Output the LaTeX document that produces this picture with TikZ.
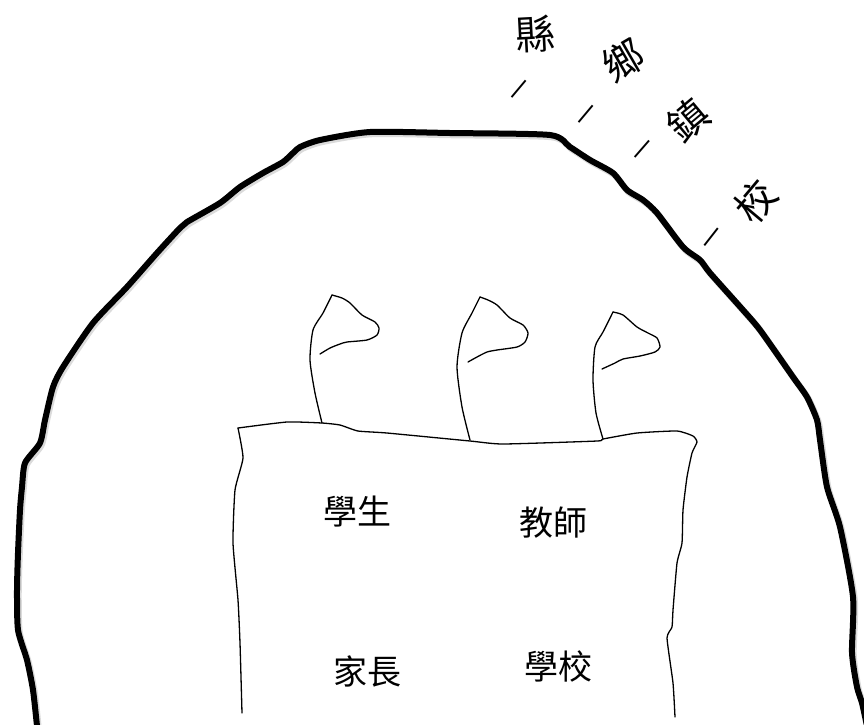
\documentclass[tikz,border=0pt]{standalone}
\usepackage{fontspec}
\newfontfamily\cjk{Noto Sans CJK TC}
\begin{document}
\begin{tikzpicture}[x=1pt,y=-1pt,
  rim/.style={line width=6pt, line cap=round, line join=round},
  rimshade/.style={line width=6.5pt, draw=black!14, line cap=round, line join=round},
  pen/.style={line width=1.3pt, line cap=round, line join=round},
  label/.style={font=\cjk\fontsize{34}{34}\selectfont, inner sep=0pt},
  arcchar/.style={font=\cjk\fontsize{40}{40}\selectfont, inner sep=0pt},
  arcdash/.style={font=\cjk\fontsize{24}{24}\selectfont, inner sep=0pt}]
\useasboundingbox (0,0) rectangle (864,724);

% outer hand-drawn rim
\def\rimpath{(37,726) (33,690) (27,660) (18,630) (17,590) (18,553) (20,510) (22,487)
  (25,463) (40,443) (45,420) (53,387) (63,367) (93,323) (127,287) (157,253)
  (180,228) (187,222) (220,203) (240,187) (263,173) (283,162) (293,153) (300,147)
  (320,140) (370,132) (450,133) (550,135) (570,147) (590,160) (613,173) (627,190)
  (643,200) (657,213) (683,247) (700,260) (710,273) (743,310) (760,330) (793,377)
  (807,397) (817,420) (820,440) (827,487) (840,527) (853,597) (852,653) (857,687)
  (862,703) (867,726)}
\begin{scope}[shift={(1.5,2)}]
  \draw[rimshade] plot[smooth, tension=0.4] coordinates {\rimpath};
\end{scope}
\draw[rim] plot[smooth, tension=0.4] coordinates {\rimpath};

% the box, open at the bottom
\draw[pen] plot[smooth, tension=0.3] coordinates {(242,713) (240,643) (238,600)
  (233,543) (235,490) (243,458) (238,428)};
\draw[pen] plot[smooth, tension=0.3] coordinates {(238,428) (287,422) (322,423)
  (340,425) (358,431) (387,433) (470,441) (503,444) (597,441) (603,439) (637,433)
  (677,431) (693,436) (697,442) (692,453) (687,477) (683,510) (682,543) (677,563)
  (673,610) (672,627) (667,638) (673,683) (675,717)};

% three flags standing on the box
\draw[pen] plot[smooth, tension=0.4] coordinates {(322,423) (315,393) (310,360)
  (313,330) (323,313) (332,295)};
\draw[pen] plot[smooth, tension=0.4] coordinates {(332,295) (342,298) (350,303)
  (362,315) (375,322) (379,328) (377,335) (367,340) (347,342) (340,344) (330,348)
  (320,354)};

\draw[pen] plot[smooth, tension=0.4] coordinates {(470,440) (462,407) (457,367)
  (462,333) (472,313) (480,297)};
\draw[pen] plot[smooth, tension=0.4] coordinates {(480,297) (488,300) (497,305)
  (510,318) (523,325) (528,333) (525,342) (517,347) (497,350) (487,352) (477,357)
  (468,362)};

\draw[pen] plot[smooth, tension=0.4] coordinates {(603,439) (596,413) (593,380)
  (595,347) (603,332) (613,312)};
\draw[pen] plot[smooth, tension=0.4] coordinates {(613,312) (623,315) (637,327)
  (648,333) (657,338) (660,347) (655,352) (640,356) (623,359) (615,363) (602,369)};

% labels inside the box
\node[label] (student) at (357,512) {學生};
\node[label] (teacher) at (553,523) {教師};
\node[label] (parent)  at (367,671) {家長};
\node[label] (school)  at (558,666) {學校};

% words along the rim
\node[arcchar, rotate=3]  (c1) at (536,34)  {縣};
\node[arcchar, rotate=30] (c2) at (623,60)  {鄉};
\node[arcchar, rotate=40] (c3) at (688,120) {鎮};
\node[arcchar, rotate=50] (c4) at (756,201) {校};
\node[arcdash, rotate=50] (d1) at (522,92)  {一};
\node[arcdash, rotate=50] (d2) at (589,117) {一};
\node[arcdash, rotate=49] (d3) at (645,152) {一};
\node[arcdash, rotate=52] (d4) at (715,240) {一};
\end{tikzpicture}
\end{document}
